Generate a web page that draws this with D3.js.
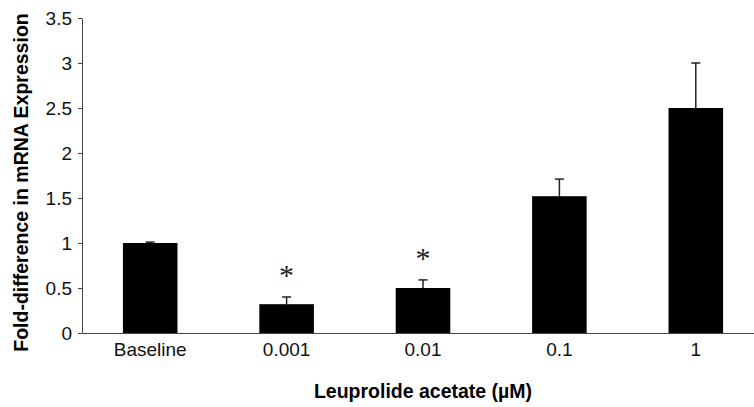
<!DOCTYPE html>
<html>
<head>
<meta charset="utf-8">
<script src="https://cdn.jsdelivr.net/npm/d3@7"></script>
<style>
  body { margin: 0; background: #fff; }
  svg { display: block; font-family: "Liberation Sans", Arial, sans-serif; }
</style>
</head>
<body>
<svg width="754" height="407"></svg>
<script>
// data
var categories = ["Baseline", "0.001", "0.01", "0.1", "1"];
var means = [1.0, 0.32, 0.5, 1.52, 2.5];
var errors = [0.01, 0.08, 0.09, 0.19, 0.5];
var significant = [false, true, true, false, false];
var yTicks = [0, 0.5, 1, 1.5, 2, 2.5, 3, 3.5];

var svg = d3.select("svg");
var margins = { top: 18, left: 82, bottom: 74, right: -10 };
var width = 754 - margins.left - margins.right;
var height = 407 - margins.top - margins.bottom;

var data = categories.map(function (c, i) {
    return { cat: c, mean: means[i], err: errors[i], sig: significant[i] };
});

var x = d3.scaleBand().domain(categories).range([0, width]).padding(0);
var y = d3.scaleLinear().domain([0, 3.5]).range([height, 0]);

var g = svg.append("g")
    .attr("transform", "translate(" + margins.left + "," + margins.top + ")");

var barW = x.bandwidth() * 0.4;

// bars
g.selectAll("rect.bar").data(data).enter().append("rect")
    .attr("class", "bar")
    .attr("x", function (d) { return x(d.cat) + x.bandwidth() / 2 - barW / 2; })
    .attr("y", function (d) { return y(d.mean); })
    .attr("width", barW)
    .attr("height", function (d) { return y(0) - y(d.mean); })
    .attr("fill", "#000");

// error bars (upper only)
var eb = g.selectAll("g.err").data(data).enter().append("g").attr("class", "err");
eb.append("line")
    .attr("x1", function (d) { return x(d.cat) + x.bandwidth() / 2; })
    .attr("x2", function (d) { return x(d.cat) + x.bandwidth() / 2; })
    .attr("y1", function (d) { return y(d.mean); })
    .attr("y2", function (d) { return y(d.mean + d.err); })
    .attr("stroke", "#222").attr("stroke-width", 1.5);
eb.append("line")
    .attr("x1", function (d) { return x(d.cat) + x.bandwidth() / 2 - 4.5; })
    .attr("x2", function (d) { return x(d.cat) + x.bandwidth() / 2 + 4.5; })
    .attr("y1", function (d) { return y(d.mean + d.err); })
    .attr("y2", function (d) { return y(d.mean + d.err); })
    .attr("stroke", "#222").attr("stroke-width", 1.5);

// significance marks
g.selectAll("text.star").data(data.filter(function (d) { return d.sig; })).enter()
    .append("text")
    .attr("class", "star")
    .attr("x", function (d) { return x(d.cat) + x.bandwidth() / 2; })
    .attr("y", function (d) { return y(d.mean + d.err) - 12; })
    .attr("text-anchor", "middle")
    .style("font-family", "'Liberation Serif', 'Times New Roman', serif")
    .style("font-size", "30px")
    .attr("fill", "#222")
    .text("*");

// axes
var yAxis = d3.axisLeft(y).tickValues(yTicks).tickFormat(function (d) { return d; })
    .tickSize(4).tickSizeOuter(0).tickPadding(6);
var yg = g.append("g").call(yAxis);
yg.selectAll("text").style("font-size", "19px").attr("fill", "#111");
yg.selectAll("line, path").attr("stroke", "#444");

var xAxis = d3.axisBottom(x).tickSize(0).tickSizeOuter(0).tickPadding(10);
var xg = g.append("g").attr("transform", "translate(0," + height + ")").call(xAxis);
xg.selectAll("text").style("font-size", "19px").attr("fill", "#111");
xg.select("path").attr("stroke", "#444");

// axis titles
svg.append("text")
    .attr("transform", "translate(28," + (margins.top + height / 2 + 7) + ") rotate(-90)")
    .attr("text-anchor", "middle")
    .style("font-size", "19.5px").style("font-weight", "bold")
    .text("Fold-difference in mRNA Expression");

svg.append("text")
    .attr("x", 423).attr("y", 398)
    .attr("text-anchor", "middle")
    .style("font-size", "19.5px").style("font-weight", "bold")
    .text("Leuprolide acetate (µM)");
</script>
</body>
</html>
